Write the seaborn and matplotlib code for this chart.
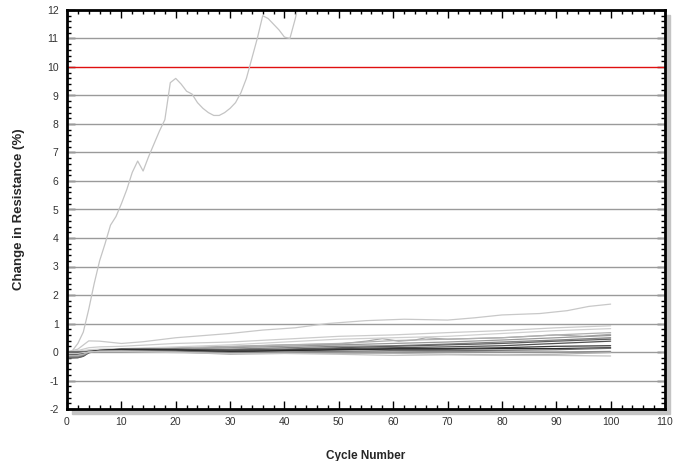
import matplotlib
matplotlib.use("Agg")
import matplotlib.pyplot as plt
from matplotlib.patches import Rectangle
from matplotlib.ticker import MultipleLocator
import numpy as np
import pandas as pd
import seaborn as sns

# outlier sample (goes off the top of the chart)
outlier_cycles = list(range(0, 44))
outlier_vals = [0.0, 0.05, 0.3, 0.7, 1.5, 2.4, 3.2, 3.8, 4.45, 4.75, 5.2, 5.7, 6.3, 6.7, 6.35,
                6.85, 7.3, 7.75, 8.15, 9.45, 9.6, 9.4, 9.15, 9.05, 8.75, 8.55, 8.4, 8.3, 8.3,
                8.4, 8.55, 8.75, 9.1, 9.6, 10.3, 11.0, 11.8, 11.7, 11.5, 11.3, 11.05, 11.0,
                11.7, 12.6]

# second highest sample
high_cycles = [0, 2, 4, 6, 10, 14, 20, 30, 36, 42, 48, 55, 62, 70, 75, 80, 87, 92, 96, 100]
high_vals = [0.0, 0.1, 0.39, 0.38, 0.3, 0.36, 0.5, 0.65, 0.77, 0.85, 1.0, 1.1, 1.15, 1.12,
             1.2, 1.3, 1.35, 1.45, 1.6, 1.68]

# sample with bumps near cycle 58 and 65
bump_cycles = [0, 2, 4, 6, 10, 20, 30, 40, 50, 55, 58, 61, 64, 66, 70, 80, 90, 95, 100]
bump_vals = [0.0, 0.02, 0.05, 0.08, 0.1, 0.15, 0.2, 0.25, 0.28, 0.38, 0.47, 0.38, 0.42,
             0.5, 0.45, 0.5, 0.6, 0.55, 0.62]

# remaining samples in the low band
band_cycles = [0, 2, 3, 4, 6, 10, 20, 30, 40, 50, 60, 70, 80, 90, 100]
band_vals = {
    "A": [0, 0.05, 0.1, 0.15, 0.18, 0.2, 0.3, 0.35, 0.45, 0.55, 0.6, 0.68, 0.75, 0.85, 0.92],
    "B": [0, 0.02, 0.05, 0.08, 0.1, 0.12, 0.18, 0.25, 0.35, 0.45, 0.5, 0.55, 0.65, 0.75, 0.82],
    "C": [-0.1, -0.12, -0.1, 0.0, 0.05, 0.08, 0.12, 0.18, 0.25, 0.3, 0.4, 0.45, 0.5, 0.6, 0.68],
    "D": [-0.15, -0.15, -0.1, 0.0, 0.05, 0.08, 0.1, 0.15, 0.2, 0.25, 0.3, 0.35, 0.42, 0.5, 0.58],
    "E": [-0.2, -0.2, -0.15, -0.02, 0.05, 0.06, 0.08, 0.1, 0.15, 0.2, 0.22, 0.28, 0.35, 0.42, 0.5],
    "F": [-0.22, -0.2, -0.15, -0.03, 0.05, 0.08, 0.08, 0.08, 0.1, 0.15, 0.2, 0.25, 0.3, 0.38, 0.45],
    "G": [-0.1, -0.08, -0.05, 0.0, 0.06, 0.1, 0.1, 0.05, 0.08, 0.12, 0.15, 0.18, 0.22, 0.3, 0.38],
    "H": [0, 0.0, 0.0, 0.02, 0.05, 0.1, 0.08, 0.02, 0.05, 0.08, 0.12, 0.12, 0.15, 0.2, 0.22],
    "I": [-0.05, -0.05, -0.03, 0.0, 0.04, 0.08, 0.06, 0.0, 0.05, 0.08, 0.1, 0.1, 0.12, 0.12, 0.15],
    "J": [-0.2, -0.18, -0.12, -0.02, 0.03, 0.05, 0.03, -0.02, 0.0, 0.02, 0.05, 0.05, 0.06, 0.08, 0.13],
    "K": [-0.15, -0.15, -0.1, 0.0, 0.03, 0.04, 0.0, -0.05, -0.02, 0.0, 0.0, 0.02, 0.0, 0.0, 0.02],
    "L": [-0.12, -0.12, -0.08, 0.0, 0.02, 0.03, 0.0, -0.08, -0.05, -0.05, -0.05, -0.08, -0.1, -0.08, -0.02],
    "M": [-0.05, -0.05, -0.02, 0.0, 0.02, 0.02, -0.02, -0.05, -0.05, -0.08, -0.12, -0.1, -0.12, -0.12, -0.14],
}

colors = {
    "outlier": "#c4c4c4", "high": "#c8c8c8", "bump": "#a8a8a8",
    "A": "#cccccc", "B": "#d0d0d0", "C": "#b0b0b0", "D": "#989898", "E": "#808080",
    "F": "#5e5e5e", "G": "#505050", "H": "#3a3a3a", "I": "#2a2a2a", "J": "#6e6e6e",
    "K": "#8e8e8e", "L": "#b2b2b2", "M": "#c4c4c4",
}

rows = []
for c, v in zip(outlier_cycles, outlier_vals):
    rows.append(("outlier", c, v))
for c, v in zip(high_cycles, high_vals):
    rows.append(("high", c, v))
for c, v in zip(bump_cycles, bump_vals):
    rows.append(("bump", c, v))
for name, vals in band_vals.items():
    for c, v in zip(band_cycles, vals):
        rows.append((name, c, v))
df = pd.DataFrame(rows, columns=["sample", "cycle", "change"])

sns.set_style("white")
plt.rcParams["font.family"] = ["Liberation Sans", "DejaVu Sans"]
plt.rcParams["axes.unicode_minus"] = False

fig = plt.figure(figsize=(6.78, 4.61), dpi=100)
ax = fig.add_axes([67 / 678, 1 - 409 / 461, 598 / 678, 399 / 461])

# drop shadow behind the frame
shadow = Rectangle((72 / 678, 1 - 414 / 461), 598 / 678, 399 / 461,
                   transform=fig.transFigure, color="#c4c4c4", zorder=-5)
fig.add_artist(shadow)
ax.set_facecolor("white")

for y in range(-1, 12):
    ax.axhline(y, color="#e01010" if y == 10 else "#9a9a9a", lw=1.0, zorder=1)

sns.lineplot(data=df, x="cycle", y="change", hue="sample", palette=colors,
             estimator=None, legend=False, lw=0.9, ax=ax, zorder=2)

ax.set_xlim(0, 110)
ax.set_ylim(-2, 12)
ax.xaxis.set_major_locator(MultipleLocator(10))
ax.xaxis.set_minor_locator(MultipleLocator(2))
ax.yaxis.set_major_locator(MultipleLocator(1))
ax.yaxis.set_minor_locator(MultipleLocator(0.2))
ax.tick_params(which="both", direction="in", top=True, right=True, bottom=True, left=True,
               color="black", width=1)
ax.tick_params(which="major", length=6, labelsize=7.5, labelcolor="#333333", pad=6)
ax.tick_params(which="minor", length=3)
for s in ax.spines.values():
    s.set_color("black")
    s.set_linewidth(2)

ax.set_xlabel("Cycle Number", fontsize=8.5, fontweight="bold", labelpad=16)
ax.set_ylabel("Change in Resistance (%)", fontsize=9.5, fontweight="bold", labelpad=16)

fig.savefig("out.png", dpi=100)
